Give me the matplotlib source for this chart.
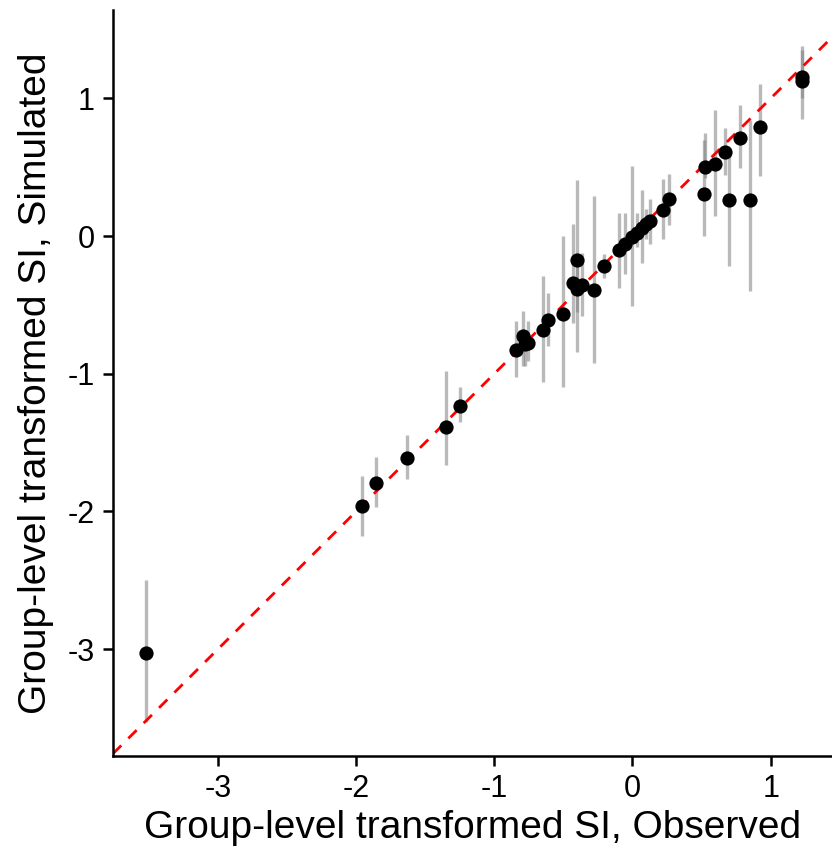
import numpy as np
import matplotlib
matplotlib.use('Agg')
import matplotlib.pyplot as plt

plt.rcParams['font.family'] = ['Liberation Sans', 'DejaVu Sans']

# observed vs simulated group-level transformed SI, with simulated interval
observed = [-3.52, -1.959, -1.858, -1.634, -1.352, -1.246, -0.845, -0.79, -0.78,
            -0.754, -0.645, -0.614, -0.505, -0.433, -0.402, -0.404, -0.363, -0.281,
            -0.208, -0.096, -0.054, 0.0, 0.03, 0.067, 0.096, 0.129, 0.221, 0.264,
            0.515, 0.522, 0.597, 0.671, 0.698, 0.776, 0.852, 0.920, 1.224, 1.224]
simulated = [-3.027, -1.957, -1.792, -1.609, -1.384, -1.237, -0.828, -0.725, -0.78,
             -0.773, -0.681, -0.611, -0.565, -0.338, -0.176, -0.386, -0.355, -0.391,
             -0.22, -0.104, -0.06, -0.007, 0.024, 0.06, 0.089, 0.113, 0.193, 0.266,
             0.309, 0.502, 0.527, 0.611, 0.261, 0.713, 0.263, 0.795, 1.159, 1.128]
sim_low = [-3.527, -2.179, -1.964, -1.766, -1.662, -1.353, -1.022, -0.942, -0.94,
           -0.905, -1.056, -0.797, -1.099, -0.628, -0.845, -0.55, -0.58, -0.918,
           -0.302, -0.375, -0.278, -0.507, -0.08, -0.193, -0.02, -0.056, -0.024, 0.08,
           0.0, 0.423, 0.145, 0.447, -0.217, 0.495, -0.399, 0.44, 1.0, 0.853]
sim_high = [-2.50, -1.739, -1.606, -1.442, -0.983, -1.099, -0.616, -0.543, -0.68,
            -0.616, -0.29, -0.415, 0.0, 0.085, 0.404, -0.2, -0.12, 0.29,
            -0.133, 0.169, 0.169, 0.512, 0.17, 0.338, 0.2, 0.266, 0.415, 0.451,
            0.696, 0.749, 0.918, 0.785, 0.616, 0.954, 0.846, 1.104, 1.384, 1.35]

fig = plt.figure(figsize=(8.32, 8.58), dpi=100)
ax = fig.add_axes([0.1358, 0.119, 0.8642, 0.869])

ax.vlines(observed, sim_low, sim_high, color='grey', alpha=0.55, linewidth=2.4, zorder=1)
ax.axline((0, 0), slope=1, color='red', linewidth=2.0, linestyle=(0, (4.2, 3.6)), zorder=2)
ax.scatter(observed, simulated, s=105, color='black', zorder=3, linewidths=0)

ax.set_xlim(-3.759, 1.444)
ax.set_ylim(-3.775, 1.64)
ax.set_xticks([-3, -2, -1, 0, 1])
ax.set_yticks([-3, -2, -1, 0, 1])
ax.set_xticklabels(['-3', '-2', '-1', '0', '1'])
ax.set_yticklabels(['-3', '-2', '-1', '0', '1'])

for s in ['top', 'right']:
    ax.spines[s].set_visible(False)
for s in ['left', 'bottom']:
    ax.spines[s].set_linewidth(1.8)
ax.tick_params(width=1.8, length=7, labelsize=22, colors='black', pad=6)

ax.set_xlabel('Group-level transformed SI, Observed', fontsize=28, labelpad=4)
ax.set_ylabel('Group-level transformed SI, Simulated', fontsize=28, labelpad=10)

fig.savefig('out.png', dpi=100)
